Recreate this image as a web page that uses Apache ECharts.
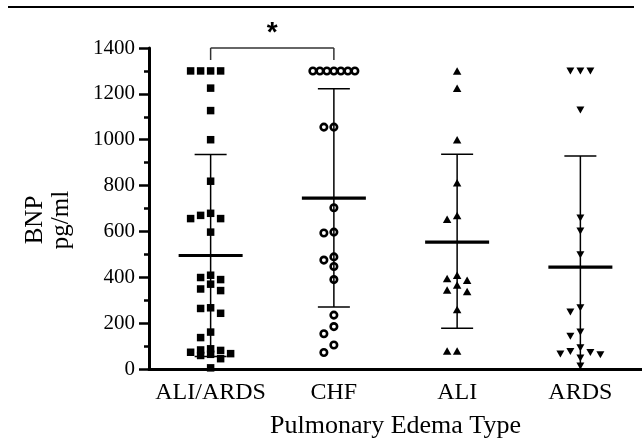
<!DOCTYPE html>
<html>
<head>
<meta charset="utf-8">
<script src="https://cdn.jsdelivr.net/npm/echarts@6/dist/echarts.min.js"></script>
<style>html,body{margin:0;padding:0;background:#fff}#c{width:642px;height:444px}</style>
</head>
<body>
<div id="c"></div>
<script>
// ---- data ----
const categories = ['ALI/ARDS', 'CHF', 'ALI', 'ARDS'];
const aliArdsValues = [1300, 1300, 1300, 1300, 1225, 1127, 1000, 819, 679, 670, 656, 656, 597,
  409, 399, 390, 370, 349, 342, 267, 264, 243, 161, 137, 88, 83, 81, 73, 67, 64, 59, 45, 5];
const chfValues = [1300, 1300, 1300, 1300, 1300, 1300, 1300, 1055, 1055, 703, 597, 593,
  489, 475, 447, 390, 235, 185, 154, 105, 72];
const aliValues = [1300, 1225, 1000, 812, 670, 653, 409, 395, 387, 366, 345, 338, 260, 79, 79];
const ardsValues = [1300, 1300, 1300, 1130, 659, 602, 498, 267, 249, 161, 143, 93, 76, 72, 65, 62, 48, 13];
const means = [495, 745, 553, 444];
const errHigh = [935, 1222, 937, 929];
const errLow = [55, 270, 178, null]; // ARDS lower bar falls below 0 (no cap)
const yTickMin = 0, yTickMax = 1400, yTickStep = 200;
const yTitleLines = ['BNP', 'pg/ml'];
const xTitle = 'Pulmonary Edema Type';

// ---- layout helpers (beeswarm jitter computed from the values) ----
const PX_PER_UNIT = 330 / 1400;
function swarm(vals, step, d, maxSlot, maxSpread) {
  const order = vals.map((v, i) => i).sort((a, b) => vals[b] - vals[a]);
  const placed = [];
  const off = new Array(vals.length).fill(0);
  const slots = [0];
  for (let s = 1; s <= maxSlot; s++) { slots.push(-s, s); }
  for (const i of order) {
    const y = vals[i] * PX_PER_UNIT;
    let best = null, bestGap = -1;
    for (const s of slots) {
      const same = placed.filter(p => p.s === s);
      const gap = same.length ? Math.min(...same.map(p => Math.abs(p.y - y))) : Infinity;
      if (gap >= d) { best = s; break; }
      if (gap > bestGap) { bestGap = gap; best = s; }
    }
    placed.push({ s: best, y });
    off[i] = best * step;
  }
  const groups = {};
  vals.forEach((v, i) => { (groups[v] = groups[v] || []).push(i); });
  Object.values(groups).forEach(g => {
    if (g.length > maxSlot * 2 + 1) {
      const sp = maxSpread / (g.length - 1);
      g.forEach((i, j) => { off[i] = (j - (g.length - 1) / 2) * sp; });
    }
  });
  return off;
}
function scatterData(ci, vals) {
  const off = swarm(vals, 10, 8, 2, 42);
  return vals.map((v, i) => ({ value: [ci, v], symbolOffset: [off[i], 0] }));
}

const serif = 'Liberation Serif';
const chart = echarts.init(document.getElementById('c'), null, { renderer: 'canvas' });

const errData = categories.map((c, i) => [i, means[i], errLow[i] == null ? 0 : errLow[i], errHigh[i], errLow[i] == null ? 0 : 1]);

const option = {
  animation: false,
  backgroundColor: '#fff',
  grid: { left: 149, right: 0, top: 48, bottom: 66 },
  xAxis: {
    type: 'category',
    data: categories,
    boundaryGap: true,
    axisLine: { show: true, lineStyle: { color: '#000', width: 3 } },
    axisTick: { show: false },
    axisLabel: { color: '#000', fontFamily: serif, fontSize: 24, margin: 12, interval: 0 },
    name: xTitle,
    nameLocation: 'middle',
    nameGap: 44,
    nameTextStyle: { color: '#000', fontFamily: serif, fontSize: 26 },
    splitLine: { show: false }
  },
  yAxis: {
    type: 'value',
    min: yTickMin, max: yTickMax, interval: yTickStep,
    axisLine: { show: true, lineStyle: { color: '#000', width: 3 } },
    axisTick: { show: true, inside: false, length: 10, lineStyle: { color: '#000', width: 2.5 } },
    minorTick: { show: true, splitNumber: 2, length: 5, lineStyle: { color: '#000', width: 2.5 } },
    axisLabel: { color: '#000', fontFamily: serif, fontSize: 21, margin: 14, formatter: v => String(v) },
    splitLine: { show: false }
  },
  graphic: [
    { type: 'line', shape: { x1: 8, y1: 7, x2: 634, y2: 7 }, style: { stroke: '#000', lineWidth: 2 } },
    { type: 'text', x: 35, y: 220, rotation: Math.PI / 2,
      style: { text: yTitleLines[0], fill: '#000', font: '25px "Liberation Serif"', align: 'center', verticalAlign: 'middle' } },
    { type: 'text', x: 61, y: 220, rotation: Math.PI / 2,
      style: { text: yTitleLines[1], fill: '#000', font: '25px "Liberation Serif"', align: 'center', verticalAlign: 'middle' } }
  ],
  series: [
    { type: 'scatter', data: scatterData(0, aliArdsValues), symbol: 'rect', symbolSize: 7.5,
      itemStyle: { color: '#000', opacity: 1 }, z: 3 },
    { type: 'scatter', data: scatterData(1, chfValues), symbol: 'circle', symbolSize: 6.5,
      itemStyle: { color: '#fff', borderColor: '#000', borderWidth: 2.6, opacity: 1 }, z: 3 },
    { type: 'scatter', data: scatterData(2, aliValues), symbol: 'triangle', symbolSize: [8.5, 7.5],
      itemStyle: { color: '#000', opacity: 1 }, z: 3 },
    { type: 'scatter', data: scatterData(3, ardsValues), symbol: 'triangle', symbolRotate: 180, symbolSize: [8, 7],
      itemStyle: { color: '#000', opacity: 1 }, z: 3 },
    {
      type: 'custom', clip: false, z: 4,
      data: errData,
      encode: { x: 0, y: [1, 2, 3] },
      renderItem: function (params, api) {
        const i = api.value(0);
        const pm = api.coord([i, api.value(1)]);
        const pl = api.coord([i, api.value(2)]);
        const ph = api.coord([i, api.value(3)]);
        const hasLow = api.value(4) === 1;
        const st = { stroke: '#000', lineWidth: 1.5 };
        const ch = [
          { type: 'line', shape: { x1: pm[0], y1: ph[1], x2: pm[0], y2: pl[1] }, style: st },
          { type: 'line', shape: { x1: pm[0] - 16, y1: ph[1], x2: pm[0] + 16, y2: ph[1] }, style: st },
          { type: 'line', shape: { x1: pm[0] - 32, y1: pm[1], x2: pm[0] + 32, y2: pm[1] }, style: { stroke: '#000', lineWidth: 3.2 } }
        ];
        if (hasLow) ch.push({ type: 'line', shape: { x1: pm[0] - 16, y1: pl[1], x2: pm[0] + 16, y2: pl[1] }, style: st });
        return { type: 'group', children: ch };
      }
    },
    {
      type: 'custom', clip: false, z: 4,
      data: [[0, 1, 1400]],
      encode: { x: [0, 1], y: 2 },
      renderItem: function (params, api) {
        const a = api.coord([api.value(0), api.value(2)]);
        const b = api.coord([api.value(1), api.value(2)]);
        const st = { stroke: '#333', lineWidth: 1.5 };
        return { type: 'group', children: [
          { type: 'line', shape: { x1: a[0], y1: a[1], x2: b[0], y2: b[1] }, style: st },
          { type: 'line', shape: { x1: a[0], y1: a[1], x2: a[0], y2: a[1] + 12 }, style: st },
          { type: 'line', shape: { x1: b[0], y1: b[1], x2: b[0], y2: b[1] + 12 }, style: st },
          { type: 'text', style: { text: '*', x: (a[0] + b[0]) / 2, y: a[1] - 15, fill: '#000',
            font: 'bold 28px "Liberation Sans"', textAlign: 'center', textVerticalAlign: 'middle' } }
        ] };
      }
    }
  ]
};
chart.setOption(option);
</script>
</body>
</html>
